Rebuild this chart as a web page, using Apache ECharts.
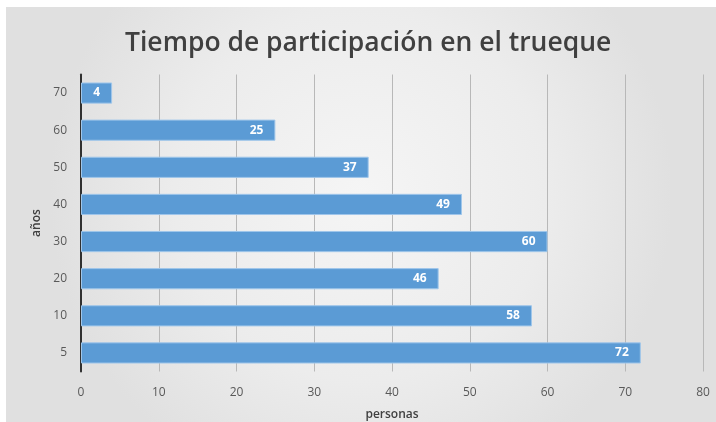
<!DOCTYPE html>
<html>
<head>
<meta charset="utf-8">
<script src="https://cdn.jsdelivr.net/npm/echarts@6/dist/echarts.min.js"></script>
<style>
  html, body { margin: 0; padding: 0; background: #ffffff; }
  #chart { position: absolute; left: 6px; top: 7px; width: 710px; height: 415px; }
</style>
</head>
<body>
<div id="chart"></div>
<script>
// Years of participation (bottom to top) and number of people
const categories = ['5', '10', '20', '30', '40', '50', '60', '70'];
const personas = [72, 58, 46, 60, 49, 37, 25, 4];
const xTicks = { min: 0, max: 80, interval: 10 };

const chart = echarts.init(document.getElementById('chart'));
chart.setOption({
  backgroundColor: {
    type: 'radial', x: 0.5, y: 0.45, r: 0.75,
    colorStops: [
      { offset: 0, color: '#f5f5f5' },
      { offset: 0.6, color: '#ececec' },
      { offset: 1, color: '#e0e0e0' }
    ]
  },
  title: {
    text: 'Tiempo de participación en el trueque',
    left: 114,
    top: 18,
    padding: 5,
    textStyle: { fontFamily: 'Open Sans', fontSize: 26.5, fontWeight: 600, color: '#404040' }
  },
  grid: { left: 75, right: 13, top: 67.5, bottom: 50.5, containLabel: false, outerBoundsMode: 'none' },
  xAxis: {
    type: 'value',
    min: xTicks.min, max: xTicks.max, interval: xTicks.interval,
    name: 'personas',
    nameLocation: 'middle',
    nameGap: 37,
    nameTextStyle: { fontFamily: 'Open Sans', fontSize: 12, fontWeight: 600, color: '#404040' },
    axisLine: { show: false },
    axisTick: { show: false },
    axisLabel: { fontFamily: 'Open Sans', fontSize: 12, color: '#595959', margin: 15 },
    splitLine: { show: true, lineStyle: { color: '#b8b8b8', width: 1 } }
  },
  yAxis: {
    type: 'category',
    data: categories,
    name: 'años',
    nameLocation: 'middle',
    nameGap: 37,
    nameRotate: 90,
    nameTextStyle: { fontFamily: 'Open Sans', fontSize: 12, fontWeight: 600, color: '#404040' },
    axisLine: { show: true, lineStyle: { color: '#303030', width: 2 } },
    axisTick: { show: false },
    axisLabel: { fontFamily: 'Open Sans', fontSize: 12, color: '#595959', margin: 14 }
  },
  series: [{
    type: 'bar',
    data: personas,
    barCategoryGap: '43%',
    itemStyle: { color: '#5b9bd5', borderColor: '#9fc6ea', borderWidth: 1 },
    label: {
      show: true,
      position: 'insideRight',
      distance: 12,
      color: '#ffffff',
      fontFamily: 'Open Sans',
      fontSize: 12,
      fontWeight: 'bold'
    }
  }]
});
</script>
</body>
</html>
